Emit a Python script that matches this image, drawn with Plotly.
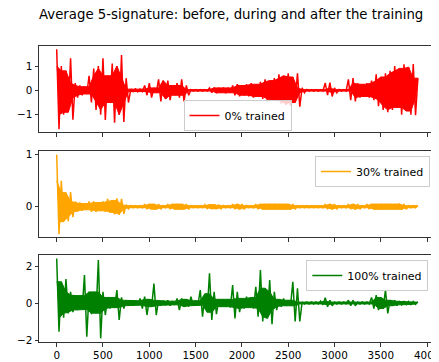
import plotly.graph_objects as go
from plotly.subplots import make_subplots

# Sample positions of the envelope readings (every 50 samples, 0..3900)
sample_step = 50

labels = ["0% trained", "30% trained", "100% trained"]
colors = ["red", "orange", "green"]

# 0% trained: positive / negative peaks read per 50-sample window
up_0 = [1.69, 1.0, 0.8, 1.32, 0.3, 0.2, 0.15, 0.6, 0.9, 1.0,
        1.32, 0.6, 1.1, 1.0, 1.45, 0.5, 0.05, 0.06, 0.05, 0.2,
        0.3, 0.1, 0.45, 0.4, 0.4, 0.2, 0.3, 0.45, 0.2, 0.03,
        0.03, 0.03, 0.03, 0.1, 0.12, 0.1, 0.12, 0.1, 0.2, 0.25,
        0.2, 0.25, 0.3, 0.25, 0.35, 0.45, 0.4, 0.5, 0.66, 0.6,
        0.7, 0.55, 0.7, 0.1, 0.03, 0.03, 0.03, 0.03, 0.3, 0.32,
        0.1, 0.03, 0.03, 0.45, 0.5, 0.3, 0.25, 0.3, 0.4, 0.66,
        0.55, 0.7, 0.8, 1.0, 0.9, 1.07, 0.95, 1.08, 0.5]
low_0 = [-1.6, -1.0, -0.9, -1.21, -0.3, -0.2, -0.15, -0.5, -0.8, -1.0,
         -1.22, -0.5, -1.33, -1.0, -1.3, -0.5, -0.05, -0.06, -0.05, -0.2,
         -0.3, -0.1, -0.45, -0.35, -0.4, -0.2, -0.3, -0.45, -0.2, -0.03,
         -0.03, -0.03, -0.03, -0.1, -0.12, -0.1, -0.12, -0.1, -0.2, -0.25,
         -0.2, -0.25, -0.3, -0.25, -0.35, -0.45, -0.4, -0.45, -0.55, -0.6,
         -0.64, -0.5, -0.67, -0.1, -0.03, -0.03, -0.03, -0.03, -0.2, -0.25,
         -0.1, -0.03, -0.03, -0.4, -0.45, -0.3, -0.25, -0.3, -0.4, -0.65,
         -0.8, -0.9, -0.8, -0.7, -1.0, -0.85, -1.0, -1.02, -0.3]

# 30% trained
up_30 = [1.0, 0.5, 0.27, 0.28, 0.1, 0.08, 0.06, 0.1, 0.1, 0.08,
         0.1, 0.15, 0.12, 0.16, 0.15, 0.04, 0.02, 0.02, 0.02, 0.05,
         0.05, 0.05, 0.05, 0.02, 0.05, 0.05, 0.05, 0.05, 0.05, 0.02,
         0.02, 0.02, 0.04, 0.04, 0.04, 0.04, 0.02, 0.02, 0.05, 0.05,
         0.05, 0.02, 0.02, 0.05, 0.05, 0.05, 0.05, 0.05, 0.05, 0.05,
         0.05, 0.05, 0.02, 0.02, 0.02, 0.02, 0.02, 0.02, 0.05, 0.05,
         0.05, 0.02, 0.02, 0.05, 0.05, 0.05, 0.02, 0.05, 0.05, 0.05,
         0.05, 0.05, 0.05, 0.05, 0.06, 0.05, 0.02, 0.02, 0.02]
low_30 = [-0.53, -0.3, -0.28, -0.2, -0.1, -0.08, -0.06, -0.1, -0.1, -0.08,
          -0.1, -0.12, -0.15, -0.16, -0.14, -0.04, -0.02, -0.02, -0.02, -0.05,
          -0.05, -0.05, -0.05, -0.02, -0.05, -0.05, -0.05, -0.05, -0.05, -0.02,
          -0.02, -0.02, -0.04, -0.04, -0.04, -0.04, -0.02, -0.02, -0.05, -0.05,
          -0.05, -0.02, -0.02, -0.05, -0.05, -0.05, -0.05, -0.05, -0.05, -0.05,
          -0.05, -0.05, -0.02, -0.02, -0.02, -0.02, -0.02, -0.02, -0.05, -0.05,
          -0.05, -0.02, -0.02, -0.05, -0.05, -0.05, -0.02, -0.05, -0.05, -0.05,
          -0.05, -0.05, -0.05, -0.05, -0.06, -0.05, -0.02, -0.02, -0.02]

# 100% trained
up_100 = [2.41, 1.15, 1.3, 0.6, 0.43, 0.4, 1.51, 0.6, 0.6, 2.32,
          0.6, 0.3, 0.3, 0.7, 0.3, 0.15, 0.15, 0.12, 0.25, 0.34,
          0.2, 1.05, 0.15, 0.12, 0.15, 0.1, 0.25, 0.25, 0.2, 0.34,
          0.12, 0.7, 0.5, 1.6, 0.6, 0.2, 0.2, 0.2, 0.97, 0.6,
          0.25, 0.34, 0.3, 0.88, 1.78, 0.8, 1.24, 0.6, 0.2, 0.25,
          0.15, 1.15, 0.8, 0.05, 0.05, 0.05, 0.05, 0.1, 0.29, 0.15,
          0.05, 0.05, 0.05, 0.15, 0.15, 0.05, 0.05, 0.05, 0.3, 0.43,
          0.3, 0.7, 0.15, 0.15, 0.1, 0.08, 0.08, 0.08, 0.05]
low_100 = [-1.55, -0.8, -0.56, -0.5, -0.38, -0.35, -1.82, -0.6, -0.55, -1.91,
           -0.65, -0.3, -0.25, -0.92, -0.3, -0.15, -0.15, -0.12, -0.3, -0.65,
           -0.2, -0.65, -0.15, -0.12, -0.15, -0.1, -0.38, -0.2, -0.2, -0.15,
           -0.12, -0.74, -0.5, -0.92, -0.6, -0.2, -0.2, -0.25, -0.83, -0.5,
           -0.3, -0.25, -0.3, -0.74, -1.0, -0.83, -1.15, -0.38, -0.2, -0.15,
           -0.15, -1.0, -1.0, -0.05, -0.05, -0.05, -0.05, -0.1, -0.2, -0.15,
           -0.05, -0.05, -0.05, -0.15, -0.15, -0.05, -0.05, -0.05, -0.3, -0.38,
           -0.3, -0.56, -0.15, -0.15, -0.1, -0.08, -0.08, -0.08, -0.05]

x_ticks = [0, 500, 1000, 1500, 2000, 2500, 3000, 3500, 4000]
y_ticks = [[-1, 0, 1], [0, 1], [-2, 0, 2]]
y_ranges = [[-1.71, 1.821], [-0.583, 1.071], [-2.108, 2.595]]

series = [(up_0, low_0), (up_30, low_30), (up_100, low_100)]


def zigzag(up, low):
    xs, ys = [], []
    for i in range(len(up)):
        xs.append(sample_step * i)
        ys.append(up[i])
        if i < len(up) - 1:
            xs.append(sample_step * i + sample_step / 2)
            ys.append(low[i])
    return xs, ys


def core_band(up, low):
    # dense core of the trace: the part every neighbouring window reaches
    n = len(up)
    cu = [min(up[max(i - 1, 0):i + 2]) for i in range(n)]
    cl = [max(low[max(i - 1, 0):i + 2]) for i in range(n - 1)]
    xs = [sample_step * i for i in range(n)]
    xl = [sample_step * i + sample_step / 2 for i in range(n - 1)]
    return xs + xl[::-1], cu + cl[::-1]


fig = make_subplots(rows=3, cols=1, shared_xaxes=False)

legend_names = ["legend", "legend2", "legend3"]
for k, (up, low) in enumerate(series):
    bx, by = core_band(up, low)
    fig.add_trace(go.Scatter(x=bx, y=by, mode="lines", fill="toself",
                             fillcolor=colors[k], line=dict(color=colors[k], width=1),
                             showlegend=False, hoverinfo="skip"),
                  row=k + 1, col=1)
    xs, ys = zigzag(up, low)
    fig.add_trace(go.Scatter(x=xs, y=ys, mode="lines", name=labels[k],
                             line=dict(color=colors[k], width=1.5),
                             showlegend=True, legend=legend_names[k]),
                  row=k + 1, col=1)

# Page body has an 8px margin: figure sized to the remaining area
OFF = 8
W, H = 439 - OFF, 362 - OFF
ml, mr, mt, mb = 39 - OFF, 4, 46 - OFF, 20
pw, ph = W - ml - mr, H - mt - mb


def py(s):
    return (H - mb - (s - OFF)) / ph


def px(s):
    return (s - OFF - ml) / pw


domains = [[py(132), 1.0], [py(237), py(151)], [0.0, py(255)]]

axis_common = dict(showline=True, mirror=True, linecolor="#333333", linewidth=1,
                   ticks="outside", ticklen=3.5, tickwidth=1, tickcolor="#333333",
                   showgrid=False, zeroline=False, ticklabeloverflow="allow",
                   automargin=False,
                   tickfont=dict(family="DejaVu Sans", size=10.4, color="black"))

for k in range(3):
    xa = "xaxis" if k == 0 else f"xaxis{k+1}"
    ya = "yaxis" if k == 0 else f"yaxis{k+1}"
    fig.layout[xa].update(range=[-191, 4085], tickvals=x_ticks,
                          showticklabels=(k == 2), **axis_common)
    fig.layout[ya].update(range=y_ranges[k], tickvals=y_ticks[k],
                          domain=domains[k], **axis_common)

legend_style = dict(bgcolor="rgba(255,255,255,0.8)", bordercolor="#cccccc",
                    borderwidth=1, font=dict(family="DejaVu Sans", size=11, color="black"),
                    itemwidth=30, xref="paper", yref="paper", tracegroupgap=0)

fig.update_layout(
    width=W, height=H,
    showlegend=True,
    margin=dict(l=ml, r=mr, t=mt, b=mb, autoexpand=False),
    plot_bgcolor="white", paper_bgcolor="white",
    font=dict(family="DejaVu Sans", color="black"),
    legend=dict(x=px(237.5), xanchor="center", y=py(131), yanchor="bottom", **legend_style),
    legend2=dict(x=px(430), xanchor="right", y=py(156), yanchor="top", **legend_style),
    legend3=dict(x=px(428.3), xanchor="right", y=py(260), yanchor="top", **legend_style),
    annotations=[dict(text="Average 5-signature: before, during and after the training",
                      xref="paper", yref="paper", x=px(230.5), y=py(14),
                      xanchor="center", yanchor="middle", showarrow=False,
                      font=dict(family="DejaVu Sans", size=13.3, color="black"))],
)

fig.write_html("out.html")
